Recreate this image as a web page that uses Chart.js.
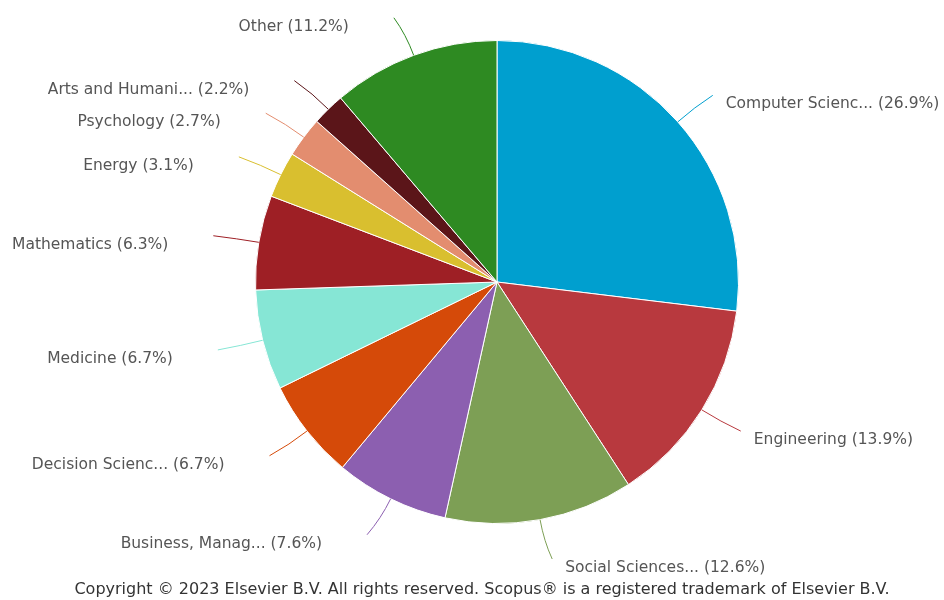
<!DOCTYPE html>
<html>
<head>
<meta charset="utf-8">
<script src="https://cdn.jsdelivr.net/npm/chart.js@4"></script>
<style>
  html, body { margin: 0; padding: 0; background: #fff; }
  #wrap { width: 944px; height: 600px; position: relative; }
</style>
</head>
<body>
<div id="wrap"><canvas id="subjectChart" width="944" height="600"></canvas></div>
<script>
// Documents by subject area (share in %)
const categories = ["Computer Scienc...", "Engineering", "Social Sciences...", "Business, Manag...",
  "Decision Scienc...", "Medicine", "Mathematics", "Energy", "Psychology", "Arts and Humani...", "Other"];
const shares = [26.9, 13.9, 12.6, 7.6, 6.7, 6.7, 6.3, 3.1, 2.7, 2.2, 11.2];
const colors = ["#009fcf", "#b8393e", "#7d9f55", "#8c5fb0", "#d54a09", "#86e6d5",
  "#9e1f25", "#d9bf2f", "#e38d6f", "#5b1519", "#2e8a22"];

const copyright = "Copyright \u00a9 2023 Elsevier B.V. All rights reserved. Scopus\u00ae is a registered trademark of Elsevier B.V.";

// draws leader lines + outside labels, Highcharts style
const outsideLabels = {
  id: 'outsideLabels',
  afterDatasetsDraw(chart) {
    const ctx = chart.ctx;
    const arcs = chart.getDatasetMeta(0).data;
    ctx.save();
    ctx.font = '15.5px "DejaVu Sans", sans-serif';
    ctx.textBaseline = 'middle';
    arcs.forEach((arc, i) => {
      const p = arc.getProps(['x', 'y', 'startAngle', 'endAngle', 'outerRadius'], true);
      const mid = (p.startAngle + p.endAngle) / 2;
      const cos = Math.cos(mid), sin = Math.sin(mid);
      const right = cos >= 0;
      const sx = p.x + cos * p.outerRadius, sy = p.y + sin * p.outerRadius;
      const ex = p.x + cos * (p.outerRadius + 40) + (right ? 5 : -6);
      const ey = p.y + sin * (p.outerRadius + 40);
      const mx = p.x + cos * (p.outerRadius + 22), my = p.y + sin * (p.outerRadius + 22);
      ctx.strokeStyle = colors[i];
      ctx.lineWidth = 1;
      ctx.beginPath();
      ctx.moveTo(sx, sy);
      ctx.quadraticCurveTo(mx, my, ex, ey);
      ctx.stroke();
      ctx.fillStyle = '#555';
      ctx.textAlign = right ? 'left' : 'right';
      const tx = right ? ex + 13 : ex - 45;
      ctx.fillText(chart.data.labels[i] + ' (' + shares[i].toFixed(1) + '%)', tx, ey + 9);
    });
    // footer
    ctx.fillStyle = '#333';
    ctx.textAlign = 'center';
    ctx.font = '16px "DejaVu Sans", sans-serif';
    ctx.fillText(copyright, 482, 590);
    ctx.restore();
  }
};

const config = {
  type: 'pie',
  data: {
    labels: categories,
    datasets: [{
      data: shares,
      backgroundColor: colors,
      borderColor: '#ffffff',
      borderWidth: 1
    }]
  },
  options: {
    responsive: false,
    animation: false,
    layout: { padding: { left: 255, right: 205, top: 40, bottom: 76 } },
    plugins: {
      legend: { display: false },
      tooltip: { enabled: false }
    }
  },
  plugins: [outsideLabels]
};

new Chart(document.getElementById('subjectChart'), config);
</script>
</body>
</html>
